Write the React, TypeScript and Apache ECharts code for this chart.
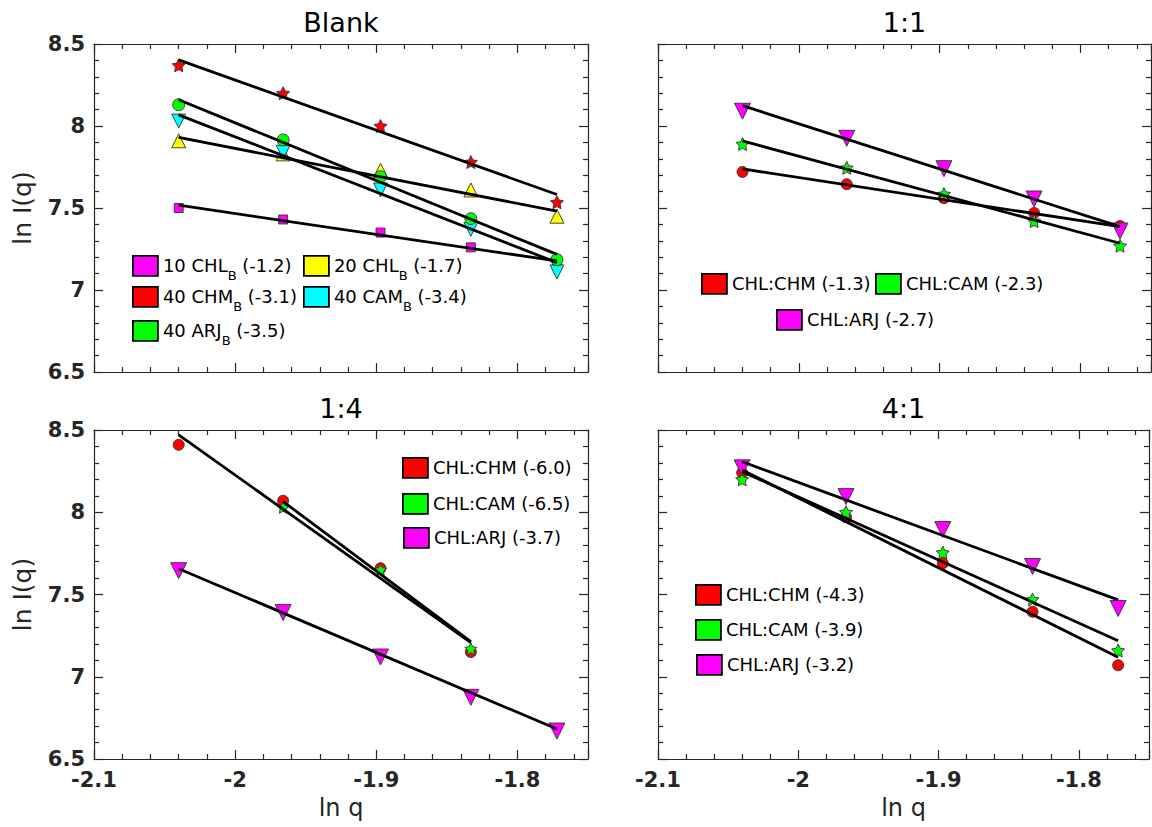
import React, { useEffect, useRef } from 'react';
import * as echarts from 'echarts';

// ---------- data ----------
const LNQ = [-2.040, -1.966, -1.897, -1.833, -1.772];
const FIT_X = [-2.040, -1.772];

// Blank panel
const blankCHL10 = [7.50, 7.43, 7.35, 7.26, 7.18];
const blankCHL20 = [7.91, 7.83, 7.73, 7.61, 7.45];
const blankCHM40 = [8.37, 8.20, 8.00, 7.78, 7.535];
const blankCAM40 = [8.03, 7.84, 7.61, 7.37, 7.11];
const blankARJ40 = [8.13, 7.915, 7.69, 7.435, 7.185];
const blankFitCHL10 = [7.517, 7.177];
const blankFitCHL20 = [7.930, 7.481];
const blankFitCHM40 = [8.403, 7.582];
const blankFitCAM40 = [8.068, 7.167];
const blankFitARJ40 = [8.160, 7.217];

// 1:1 panel
const r11CHM = [7.72, 7.645, 7.56, 7.47, 7.39];
const r11CAM = [7.89, 7.745, 7.585, 7.42, 7.27];
const r11ARJ = [8.09, 7.925, 7.74, 7.555, 7.36];
const r11FitCHM = [7.738, 7.386];
const r11FitCAM = [7.909, 7.285];
const r11FitARJ = [8.124, 7.386];

// 1:4 panel
const LNQ_1to4 = [-2.040, -1.966, -1.897, -1.833];
const LNQ_2to4 = [-1.966, -1.897, -1.833];
const FIT_X_1to4 = [-2.040, -1.833];
const FIT_X_2to4 = [-1.966, -1.833];
const r14CHM = [8.41, 8.07, 7.66, 7.15];
const r14CAM = [8.03, 7.65, 7.17];
const r14ARJ = [7.645, 7.39, 7.12, 6.875, 6.67];
const r14FitCHM = [8.470, 7.208];
const r14FitCAM = [8.065, 7.214];
const r14FitARJ = [7.657, 6.682];

// 4:1 panel
const r41CHM = [8.24, 7.97, 7.69, 7.395, 7.07];
const r41CAM = [8.20, 8.00, 7.755, 7.47, 7.16];
const r41ARJ = [8.27, 8.095, 7.895, 7.67, 7.415];
const r41FitCHM = [8.257, 7.118];
const r41FitCAM = [8.247, 7.219];
const r41FitARJ = [8.307, 7.467];

const PANEL_TITLES = ['Blank', '1:1', '1:4', '4:1'];
const X_NAME = 'ln q';
const Y_NAME = 'ln I(q)';
const X_MIN = -2.1, X_MAX = -1.75, X_STEP = 0.1;
const Y_MIN = 6.5, Y_MAX = 8.5, Y_STEP = 0.5;

// ---------- style ----------
const MAG = '#ff00ff', YEL = '#ffff00', RED = '#ff0000', CYA = '#00ffff', GRN = '#00ff00';
const AX = '#262626';
const FONT = 'DejaVu Sans';
const STAR = 'path://M0,-10L2.94,-4.05L9.51,-3.09L4.76,1.55L5.88,8.09L0,5L-5.88,8.09L-4.76,1.55L-9.51,-3.09L-2.94,-4.05Z';

const GRIDS = [
  { left: 94, top: 44, width: 494, height: 328 },
  { left: 658, top: 44, width: 493, height: 328 },
  { left: 94, top: 430, width: 494, height: 329 },
  { left: 658, top: 430, width: 493, height: 329 },
];

const pts = (xs: number[], ys: number[]) => ys.map((y, i) => [xs[i], y]);

function scatter(name: string, panel: number, xs: number[], ys: number[], symbol: string, size: number, color: string, rotate = 0) {
  return {
    type: 'scatter', name, xAxisIndex: panel * 2, yAxisIndex: panel * 2,
    data: pts(xs, ys), symbol, symbolSize: size, symbolRotate: rotate,
    itemStyle: { color, borderColor: '#333', borderWidth: 0.9, opacity: 1 },
    z: 3, silent: true,
  };
}
function fit(panel: number, xs: number[], ys: number[]) {
  return {
    type: 'line', xAxisIndex: panel * 2, yAxisIndex: panel * 2,
    data: pts(xs, ys), symbol: 'none', lineStyle: { color: '#000', width: 2.8 },
    z: 4, silent: true,
  };
}

const N = {
  b10: '10 CHL_B (-1.2)', b20: '20 CHL_B (-1.7)', b40m: '40 CHM_B (-3.1)', b40c: '40 CAM_B (-3.4)', b40a: '40 ARJ_B (-3.5)',
  a1: 'CHL:CHM (-1.3)', a2: 'CHL:CAM (-2.3)', a3: 'CHL:ARJ (-2.7)',
  c1: 'CHL:CHM (-6.0)', c2: 'CHL:CAM (-6.5)', c3: 'CHL:ARJ (-3.7)',
  d1: 'CHL:CHM (-4.3)', d2: 'CHL:CAM (-3.9)', d3: 'CHL:ARJ (-3.2)',
};

// legend placement: [name, left, top of colour box]
const LEGEND_POS: [string, number, number][] = [
  [N.b10, 132, 261], [N.b20, 303, 261], [N.b40m, 132, 292], [N.b40c, 303, 292], [N.b40a, 132, 326],
  [N.a1, 701, 273], [N.a2, 875, 273], [N.a3, 776, 309],
  [N.c1, 402, 457], [N.c2, 402, 493], [N.c3, 403, 527],
  [N.d1, 695, 584], [N.d2, 695, 619], [N.d3, 696, 654],
];

function buildOption() {
  const series: any[] = [
    scatter(N.b10, 0, LNQ, blankCHL10, 'rect', 9, MAG),
    scatter(N.b20, 0, LNQ, blankCHL20, 'triangle', 14, YEL),
    scatter(N.b40m, 0, LNQ, blankCHM40, STAR, 13, RED),
    scatter(N.b40c, 0, LNQ, blankCAM40, 'triangle', 14, CYA, 180),
    scatter(N.b40a, 0, LNQ, blankARJ40, 'circle', 12, GRN),
    fit(0, FIT_X, blankFitCHL10), fit(0, FIT_X, blankFitCHL20), fit(0, FIT_X, blankFitCHM40),
    fit(0, FIT_X, blankFitCAM40), fit(0, FIT_X, blankFitARJ40),

    scatter(N.a1, 1, LNQ, r11CHM, 'circle', 11, RED),
    scatter(N.a2, 1, LNQ, r11CAM, STAR, 13, GRN),
    scatter(N.a3, 1, LNQ, r11ARJ, 'triangle', 16, MAG, 180),
    fit(1, FIT_X, r11FitCHM), fit(1, FIT_X, r11FitCAM), fit(1, FIT_X, r11FitARJ),

    scatter(N.c1, 2, LNQ_1to4, r14CHM, 'circle', 11, RED),
    scatter(N.c2, 2, LNQ_2to4, r14CAM, STAR, 12, GRN),
    scatter(N.c3, 2, LNQ, r14ARJ, 'triangle', 16, MAG, 180),
    fit(2, FIT_X_1to4, r14FitCHM), fit(2, FIT_X_2to4, r14FitCAM), fit(2, FIT_X, r14FitARJ),

    scatter(N.d1, 3, LNQ, r41CHM, 'circle', 11, RED),
    scatter(N.d2, 3, LNQ, r41CAM, STAR, 13, GRN),
    scatter(N.d3, 3, LNQ, r41ARJ, 'triangle', 16, MAG, 180),
    fit(3, FIT_X, r41FitCHM), fit(3, FIT_X, r41FitCAM), fit(3, FIT_X, r41FitARJ),
  ];

  const xFmt = (v: number) => {
    const r = Math.round(v * 10) / 10;
    return Math.abs(v - r) < 1e-6 ? String(r) : '';
  };
  const yFmt = (v: number) => String(Math.round(v * 10) / 10);

  const lineStyle = { color: AX, width: 1.2 };
  const xAxes: any[] = [];
  const yAxes: any[] = [];
  GRIDS.forEach((_, i) => {
    const showX = i >= 2;
    const showY = i % 2 === 0;
    const xc = {
      type: 'value', gridIndex: i, min: X_MIN, max: X_MAX, interval: X_STEP,
      axisLine: { show: true, onZero: false, lineStyle },
      axisTick: { show: true, inside: true, length: 9, lineStyle },
      minorTick: { show: true, splitNumber: 5, length: 5, lineStyle },
      splitLine: { show: false }, minorSplitLine: { show: false },
    };
    xAxes.push({
      ...xc, position: 'bottom',
      axisLabel: { show: showX, formatter: xFmt, margin: 10, color: AX, fontFamily: FONT, fontSize: 21, fontWeight: 'bold' },
      name: showX ? X_NAME : '', nameLocation: 'middle', nameGap: 37,
      nameTextStyle: { color: AX, fontFamily: FONT, fontSize: 24 },
    });
    xAxes.push({
      ...xc, position: 'top', axisLabel: { show: false },
      name: PANEL_TITLES[i], nameLocation: 'middle', nameGap: 8,
      nameTextStyle: { color: '#000', fontFamily: FONT, fontSize: 27 },
    });
    const yc = {
      type: 'value', gridIndex: i, min: Y_MIN, max: Y_MAX, interval: Y_STEP,
      axisLine: { show: true, onZero: false, lineStyle },
      axisTick: { show: true, inside: true, length: 9, lineStyle },
      minorTick: { show: true, splitNumber: 5, length: 5, lineStyle },
      splitLine: { show: false }, minorSplitLine: { show: false },
    };
    yAxes.push({
      ...yc, position: 'left',
      axisLabel: { show: showY, formatter: yFmt, margin: 9, color: AX, fontFamily: FONT, fontSize: 21, fontWeight: 'bold' },
      name: showY ? Y_NAME : '', nameLocation: 'middle', nameGap: 59, nameRotate: 90,
      nameTextStyle: { color: AX, fontFamily: FONT, fontSize: 25 },
    });
    yAxes.push({ ...yc, position: 'right', axisLabel: { show: false } });
  });

  const legends = LEGEND_POS.map(([name, x, y]) => {
    const sub = name.includes('_B');
    return {
      data: [name], left: x, top: sub ? y - 6 : y, padding: 0, selectedMode: false,
      icon: 'rect', itemWidth: 25, itemHeight: 20,
      itemStyle: { borderColor: '#000', borderWidth: 1.8 },
      formatter: sub
        ? (n: string) => { const p = n.split('_B'); return `{n|${p[0]}}{s|B}{n|${p[1]}}`; }
        : undefined,
      textStyle: {
        color: '#000', fontFamily: FONT, fontSize: 18,
        rich: {
          n: { fontFamily: FONT, fontSize: 18, lineHeight: 32, color: '#000' },
          s: { fontFamily: FONT, fontSize: 13, lineHeight: 32, verticalAlign: 'bottom', color: '#000' },
        },
      },
    };
  });

  return {
    animation: false,
    backgroundColor: '#fff',
    textStyle: { fontFamily: FONT },
    grid: GRIDS.map(g => ({ ...g, containLabel: false })),
    xAxis: xAxes,
    yAxis: yAxes,
    legend: legends,
    series,
  };
}

export default function App() {
  const ref = useRef<HTMLDivElement>(null);
  useEffect(() => {
    const chart = echarts.init(ref.current!, null, { renderer: 'svg' });
    chart.setOption(buildOption() as any);
    return () => chart.dispose();
  }, []);
  return (
    <div
      ref={ref}
      style={{ position: 'fixed', left: 0, top: 0, width: 1152, height: 827, background: '#fff' }}
    />
  );
}
